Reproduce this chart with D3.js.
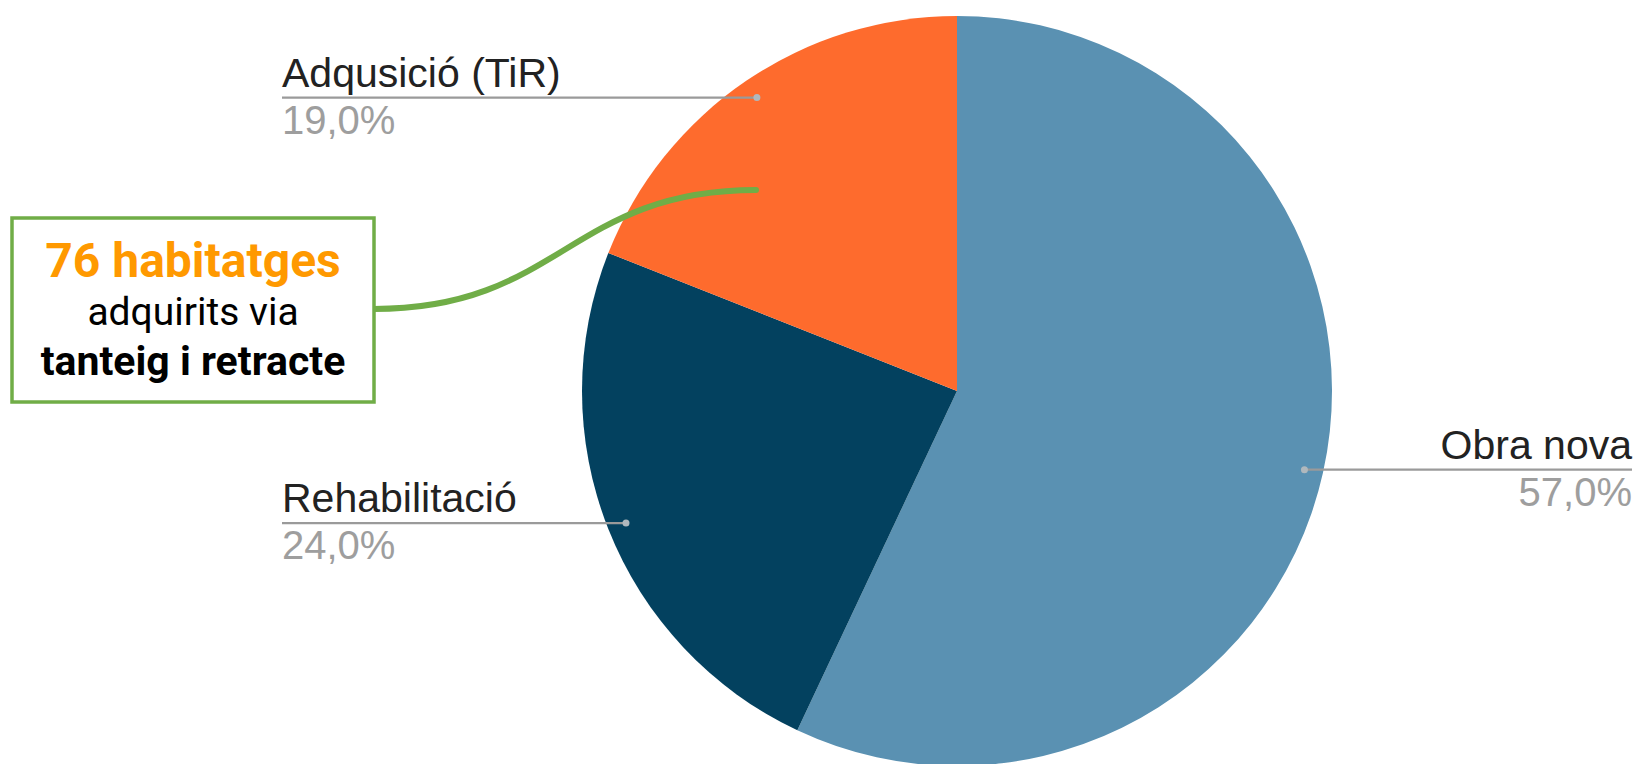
<!DOCTYPE html>
<html>
<head>
<meta charset="utf-8">
<script src="https://cdn.jsdelivr.net/npm/d3@7"></script>
<style>
  html, body { margin: 0; padding: 0; background: #ffffff; }
  svg { display: block; }
</style>
</head>
<body>
<svg id="chart" width="1636" height="764"></svg>
<script>
// Habitatges per via d'obtenció
const categories = ["Obra nova", "Rehabilitació", "Adqusició (TiR)"];
const habitatges = [228, 96, 76];
const colors = ["#5a91b2", "#03415f", "#fe6b2d"];
const labelSide = ["right", "left", "left"];

const W = 1636, H = 764;
const cx = 957, cy = 391, R = 375;
const dotR = 356;
const leftX = 282, rightX = 1632;

const svg = d3.select("#chart");
const total = d3.sum(habitatges);
const fmtPct = v => d3.format(".1f")(v * 100).replace(".", ",") + "%";

const pie = d3.pie().sort(null).value(d => d.value);
const data = categories.map((c, i) => ({ name: c, value: habitatges[i], color: colors[i], side: labelSide[i] }));
const arcs = pie(data);

const arc = d3.arc().innerRadius(0).outerRadius(R);
const dotArc = d3.arc().innerRadius(dotR).outerRadius(dotR);

const g = svg.append("g").attr("transform", `translate(${cx},${cy})`);

g.selectAll("path.slice")
  .data(arcs)
  .join("path")
  .attr("class", "slice")
  .attr("d", arc)
  .attr("fill", d => d.data.color);

// Leader lines and labels
const labels = svg.append("g").attr("class", "labels");
arcs.forEach(a => {
  const [dx, dy] = dotArc.centroid(a);
  const px = cx + dx, py = cy + dy + 1;
  const endX = a.data.side === "left" ? leftX : rightX;
  const anchor = a.data.side === "left" ? "start" : "end";

  labels.append("line")
    .attr("x1", px).attr("y1", py)
    .attr("x2", endX).attr("y2", py)
    .attr("stroke", "#9a9a9a")
    .attr("stroke-width", 2.2);

  labels.append("circle")
    .attr("cx", px).attr("cy", py).attr("r", 3.5)
    .attr("fill", "#b0b8bd");

  labels.append("text")
    .attr("x", endX).attr("y", py - 11)
    .attr("text-anchor", anchor)
    .attr("font-family", "'Liberation Sans', Arial, sans-serif")
    .attr("font-size", 41)
    .attr("fill", "#222222")
    .text(a.data.name);

  labels.append("text")
    .attr("x", endX).attr("y", py + 36)
    .attr("text-anchor", anchor)
    .attr("font-family", "'Liberation Sans', Arial, sans-serif")
    .attr("font-size", 40)
    .attr("fill", "#9e9e9e")
    .text(fmtPct(a.data.value / total));
});

// Callout for the acquisitions slice
const acq = arcs[2];
const box = { x: 12, y: 218, w: 362, h: 184 };
const note = svg.append("g").attr("class", "callout");

const curveStart = [box.x + box.w, 309];
const curveEnd = [756, 190];
const path = d3.path();
path.moveTo(curveStart[0], curveStart[1]);
path.bezierCurveTo(560, 309, 570, 190, curveEnd[0], curveEnd[1]);
note.append("path")
  .attr("d", path.toString())
  .attr("fill", "none")
  .attr("stroke", "#70ad47")
  .attr("stroke-width", 6)
  .attr("stroke-linecap", "round");

note.append("rect")
  .attr("x", box.x).attr("y", box.y)
  .attr("width", box.w).attr("height", box.h)
  .attr("fill", "#ffffff")
  .attr("stroke", "#70ad47")
  .attr("stroke-width", 3.5);

const tx = box.x + box.w / 2;
note.append("text")
  .attr("x", tx).attr("y", 277)
  .attr("text-anchor", "middle")
  .attr("font-family", "Roboto, sans-serif")
  .attr("font-weight", 700)
  .attr("font-size", 48)
  .attr("fill", "#ff9900")
  .text(`${acq.data.value} habitatges`);

note.append("text")
  .attr("x", tx).attr("y", 325)
  .attr("text-anchor", "middle")
  .attr("font-family", "Roboto, sans-serif")
  .attr("font-size", 39)
  .attr("fill", "#000000")
  .text("adquirits via");

note.append("text")
  .attr("x", tx).attr("y", 375)
  .attr("text-anchor", "middle")
  .attr("font-family", "Roboto, sans-serif")
  .attr("font-weight", 700)
  .attr("font-size", 41)
  .attr("fill", "#000000")
  .text("tanteig i retracte");
</script>
</body>
</html>
